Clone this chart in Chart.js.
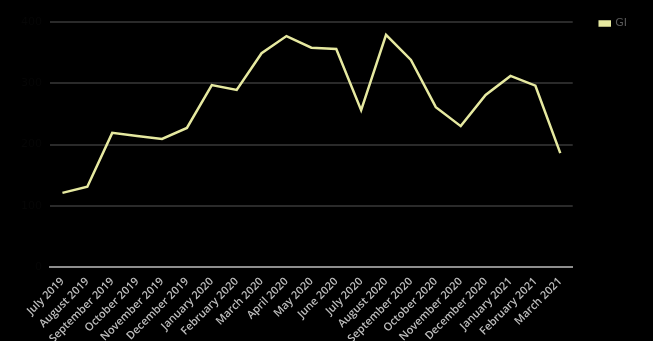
<!DOCTYPE html>
<html>
<head>
<meta charset="utf-8">
<script src="https://cdn.jsdelivr.net/npm/chart.js@4"></script>
<style>
  html, body { margin: 0; padding: 0; background: #000; }
  #wrap { width: 653px; height: 341px; }
</style>
</head>
<body>
<div id="wrap"><canvas id="chart"></canvas></div>
<script>
const months = [
  'July 2019', 'August 2019', 'September 2019', 'October 2019', 'November 2019',
  'December 2019', 'January 2020', 'February 2020', 'March 2020', 'April 2020',
  'May 2020', 'June 2020', 'July 2020', 'August 2020', 'September 2020',
  'October 2020', 'November 2020', 'December 2020', 'January 2021',
  'February 2021', 'March 2021'
];
const seriesName = 'GI';
const seriesValues = [121, 131, 219, 214, 209, 227, 297, 289, 349, 377, 358, 356,
                      256, 379, 338, 261, 230, 281, 312, 296, 186];
const yMin = 0;
const yMax = 400;
const yStep = 100;

const ctx = document.getElementById('chart').getContext('2d');
new Chart(ctx, {
  type: 'line',
  data: {
    labels: months,
    datasets: [{
      label: seriesName,
      data: seriesValues,
      xAxisID: 'x',
      yAxisID: 'y',
      borderColor: '#e6e9a0',
      backgroundColor: '#e6e9a0',
      borderWidth: 2.5,
      pointRadius: 0,
      tension: 0,
      fill: false
    }]
  },
  options: {
    responsive: true,
    maintainAspectRatio: false,
    animation: false,
    layout: { padding: { top: 10, right: 16, left: 8 } },
    plugins: {
      legend: {
        position: 'right',
        align: 'start',
        labels: {
          color: '#5a5a5a',
          font: { family: 'DejaVu Sans', size: 11 },
          boxWidth: 10,
          boxHeight: 4,
          padding: 8
        }
      },
      tooltip: { enabled: false }
    },
    scales: {
      x: {
        offset: true,
        grid: { display: false, drawTicks: false },
        border: { color: '#8e8e8e', width: 2 },
        ticks: {
          color: '#bdbdbd',
          font: { family: 'Open Sans', size: 11, weight: '600' },
          maxRotation: 45,
          minRotation: 45,
          autoSkip: false,
          padding: 8
        },
        afterFit: (scale) => { scale.height = 74; }
      },
      // empty spacer axes, only to keep the plot clear of the legend and the top edge
      top: {
        position: 'top',
        type: 'category',
        labels: [''],
        grid: { display: false, drawTicks: false },
        border: { display: false },
        ticks: { display: false },
        afterFit: (scale) => { scale.height = 12; }
      },
      right: {
        position: 'right',
        type: 'linear',
        grid: { display: false, drawTicks: false },
        border: { display: false },
        ticks: { display: false },
        afterFit: (scale) => { scale.width = 19; }
      },
      y: {
        min: yMin,
        max: yMax,
        grid: { color: '#2a2a2a', lineWidth: 2, drawTicks: false },
        border: { display: false },
        ticks: {
          stepSize: yStep,
          color: '#060606',
          font: { family: 'DejaVu Sans', size: 11 },
          padding: 8
        },
        afterFit: (scale) => { scale.width = 42; }
      }
    }
  }
});
</script>
</body>
</html>
